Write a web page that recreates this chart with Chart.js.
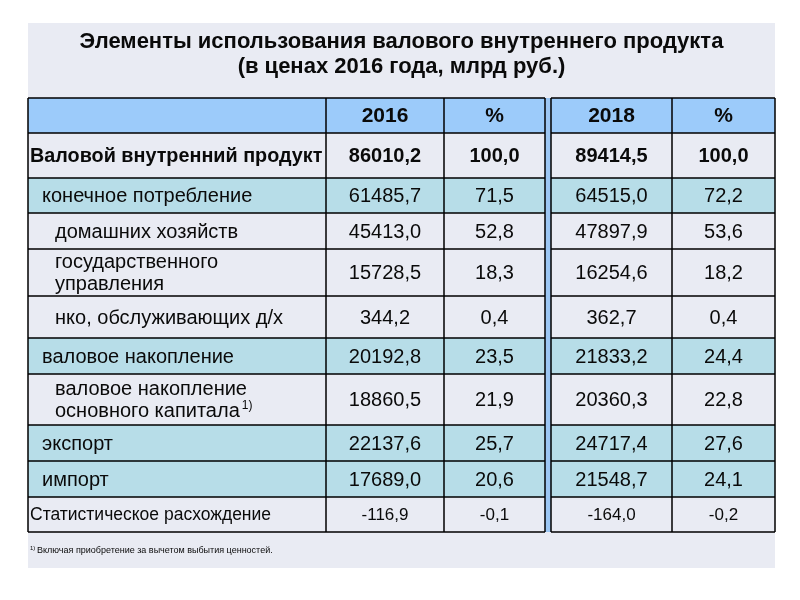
<!DOCTYPE html>
<html lang="ru">
<head>
<meta charset="UTF-8">
<title>Элементы использования ВВП</title>
<style>
  body { margin: 0; background: #fff; }
  canvas { display: block; }
</style>
</head>
<body>
<canvas id="gdpTable" width="800" height="600"></canvas>
<script src="https://cdn.jsdelivr.net/npm/chart.js"></script>
<script>
// --- data ---
const titleLines = ['Элементы использования валового внутреннего продукта', '(в ценах 2016 года, млрд руб.)'];
const headerLabels = ['2016', '%', '2018', '%'];
const rowLabels = [
    ['Валовой внутренний продукт'],
    ['конечное потребление'],
    ['домашних хозяйств'],
    ['государственного', 'управления'],
    ['нко, обслуживающих д/х'],
    ['валовое накопление'],
    ['валовое накопление', 'основного капитала'],
    ['экспорт'],
    ['импорт'],
    ['Статистическое расхождение']
];
const values2016 = [86010.2, 61485.7, 45413.0, 15728.5, 344.2, 20192.8, 18860.5, 22137.6, 17689.0, -116.9];
const share2016  = [100.0, 71.5, 52.8, 18.3, 0.4, 23.5, 21.9, 25.7, 20.6, -0.1];
const values2018 = [89414.5, 64515.0, 47897.9, 16254.6, 362.7, 21833.2, 20360.3, 24717.4, 21548.7, -164.0];
const share2018  = [100.0, 72.2, 53.6, 18.2, 0.4, 24.4, 22.8, 27.6, 24.1, -0.2];
const footnoteMark = '1)';
const footnoteText = 'Включая приобретение за вычетом выбытия ценностей.';
const footnoteRow = 6;

// --- layout / style ---
const rowKind = ['total', 'group', 'sub', 'sub', 'sub', 'group', 'sub', 'group', 'group', 'stat'];
const colWidths = [298, 118, 101, 6, 121, 103];   // label, 2016, %, separator, 2018, %
const rowHeights = [35, 45, 35, 36, 47, 42, 36, 51, 36, 36, 35];
const FONT = '"Liberation Sans", Arial, sans-serif';
const colors = {
    panel: '#e9ebf3', header: '#9ccbfa', group: '#b7dde8', plain: '#e9ebf3',
    sep: '#9cc6f3', line: '#000', text: '#0a0a0a'
};

const colEdges = [0];
colWidths.forEach(w => colEdges.push(colEdges[colEdges.length - 1] + w));
const rowEdges = [0];
rowHeights.forEach(h => rowEdges.push(rowEdges[rowEdges.length - 1] + h));

function fmt(v) {
    return v.toFixed(1).replace('.', ',');
}

const tablePlugin = {
    id: 'tablePlugin',
    beforeDraw(chart) {
        const c = chart.ctx;
        c.save();
        c.fillStyle = colors.panel;
        c.fillRect(28, 23, 747, 545);
        c.restore();
    },
    afterDraw(chart) {
        const c = chart.ctx;
        const xs = chart.scales.x, ys = chart.scales.y;
        const X = i => Math.round(xs.getPixelForValue(colEdges[i]));
        const Y = i => Math.round(ys.getPixelForValue(rowEdges[i]));
        const dataCols = [0, 1, 2, 4, 5];
        const numbers = [values2016, share2016, values2018, share2018];
        c.save();

        // fills
        for (let r = 0; r < rowHeights.length; r++) {
            let fill = colors.plain;
            if (r === 0) fill = colors.header;
            else if (rowKind[r - 1] === 'group') fill = colors.group;
            c.fillStyle = fill;
            c.fillRect(X(0), Y(r), X(colEdges.length - 1) - X(0), Y(r + 1) - Y(r));
        }
        c.fillStyle = colors.sep;
        c.fillRect(X(3), Y(0), X(4) - X(3), Y(rowEdges.length - 1) - Y(0));

        // grid lines
        c.strokeStyle = colors.line;
        c.lineWidth = 1.5;
        c.beginPath();
        for (let r = 0; r < rowEdges.length; r++) {
            const y = Y(r);
            c.moveTo(X(0), y); c.lineTo(X(3), y);
            c.moveTo(X(4), y); c.lineTo(X(colEdges.length - 1), y);
        }
        for (let i = 0; i < colEdges.length; i++) {
            c.moveTo(X(i), Y(0)); c.lineTo(X(i), Y(rowEdges.length - 1));
        }
        c.stroke();

        // header
        c.fillStyle = colors.text;
        c.textBaseline = 'middle';
        c.textAlign = 'center';
        const cx = i => (X(dataCols[i]) + X(dataCols[i] + 1)) / 2;
        const cy = r => (Y(r) + Y(r + 1)) / 2 + 1;
        c.font = 'bold 21px ' + FONT;
        headerLabels.forEach((t, i) => c.fillText(t, cx(i + 1), cy(0)));

        // body rows
        rowLabels.forEach((lines, k) => {
            const r = k + 1;
            const kind = rowKind[k];
            let font = '20px ' + FONT, numFont = '20px ' + FONT, indent = 2;
            if (kind === 'total') { font = 'bold 19.8px ' + FONT; numFont = 'bold 20px ' + FONT; }
            if (kind === 'group') indent = 14;
            if (kind === 'sub') indent = 27;
            if (kind === 'stat') { font = '17.5px ' + FONT; numFont = '17px ' + FONT; }

            c.textAlign = 'left';
            const yc = cy(r);
            const step = 22;
            lines.forEach((t, j) => {
                const y = yc + (j - (lines.length - 1) / 2) * step;
                c.font = font;
                c.fillText(t, X(0) + indent, y);
                if (k === footnoteRow && j === lines.length - 1) {
                    const w = c.measureText(t).width;
                    c.font = '12px ' + FONT;
                    c.fillText(footnoteMark, X(0) + indent + w + 2, y - 6);
                }
            });

            c.textAlign = 'center';
            c.font = numFont;
            numbers.forEach((arr, i) => c.fillText(fmt(arr[k]), cx(i + 1), yc));
        });

        // footnote
        c.textAlign = 'left';
        c.font = '6px ' + FONT;
        c.fillText(footnoteMark, 30, 548);
        c.font = '9px ' + FONT;
        c.fillText(footnoteText, 37, 551);
        c.restore();
    }
};

new Chart(document.getElementById('gdpTable'), {
    type: 'bar',
    data: { datasets: [] },
    options: {
        responsive: false,
        animation: false,
        events: [],
        layout: { padding: { left: 28, right: 25, top: 0, bottom: 68 } },
        scales: {
            x: { type: 'linear', display: false, offset: false, min: 0, max: colEdges[colEdges.length - 1] },
            y: { type: 'linear', display: false, offset: false, min: 0, max: rowEdges[rowEdges.length - 1], reverse: true }
        },
        plugins: {
            legend: { display: false },
            tooltip: { enabled: false },
            title: {
                display: true,
                text: titleLines,
                color: colors.text,
                font: { family: FONT, size: 22, weight: 'bold', lineHeight: 1.14 },
                padding: { top: 29.5, bottom: 18.4 }
            }
        }
    },
    plugins: [tablePlugin]
});
</script>
</body>
</html>
